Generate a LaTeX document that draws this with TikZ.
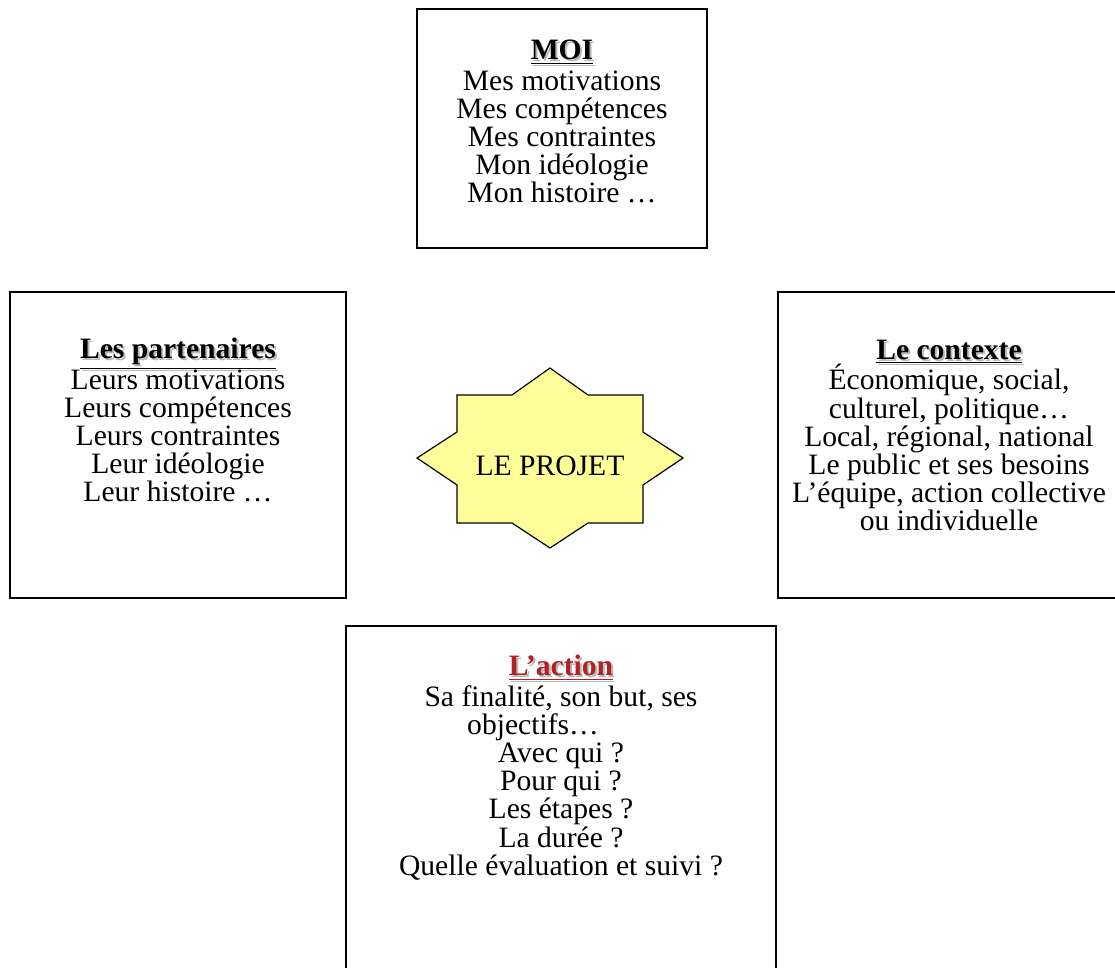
\documentclass[tikz,border=0pt]{standalone}
\usepackage{fontspec}
\setmainfont{Liberation Serif}
\usetikzlibrary{positioning}

\definecolor{rougetitre}{RGB}{178,34,34}
\definecolor{jauneprojet}{RGB}{255,255,153}

% title underlined with a small grey shadow (no depth, so line spacing stays even)
\newcommand{\titreombre}[2][black]{\leavevmode\raisebox{0pt}[\height][0pt]{\rlap{\hspace{1pt}\raisebox{-1pt}{\color{gray!55}\textbf{\underline{#2}}}}{\color{#1}\textbf{\underline{#2}}}}}

\begin{document}
\begin{tikzpicture}[
    x=0.5pt, y=-0.5pt,
    % boxes
    panel/.style={draw, line width=1pt, inner sep=0pt},
    corps/.style={font=\fontsize{14.8}{14.1}\selectfont, align=center, inner sep=0pt, anchor=north},
    % centre star
    etoile/.style={draw, line width=0.6pt, fill=jauneprojet, line join=miter}
]
\clip (0,0) rectangle (1115,968);
\fill[white] (0,0) rectangle (1115,968);

% --- the four boxes ---
\node[panel, minimum width=145pt, minimum height=119.5pt] (moi) at (562,128.5) {};
\node[panel, minimum width=168pt, minimum height=153pt] (partenaires) at (178,445) {};
\node[panel, minimum width=171pt, minimum height=153pt] (contexte) at (949,445) {};
\node[panel, minimum width=215pt, minimum height=174.5pt] (action) at (561,800.5) {};

% --- texts ---
\node[corps, below=16pt of moi.north] (moitexte) {\titreombre{MOI}\\[1pt]
 Mes motivations\\ Mes compétences\\ Mes contraintes\\ Mon idéologie\\ Mon histoire …};
\node[corps, below=23.5pt of partenaires.north] (partexte) {\titreombre{Les partenaires}\\[1pt]
 Leurs motivations\\ Leurs compétences\\ Leurs contraintes\\ Leur idéologie\\ Leur histoire …};
\node[corps, below=24.5pt of contexte.north] (ctxtexte) {\titreombre{Le contexte}\\[1pt]
 Économique, social,\\ culturel, politique…\\ Local, régional, national\\ Le public et ses besoins\\
 L’équipe, action collective\\ ou individuelle};
\node[corps, below=15pt of action.north] (acttexte) {\titreombre[rougetitre]{L’action}\\[1pt]
 Sa finalité, son but, ses\\ \mbox{objectifs…\hspace{28pt}}\\ Avec qui ?\\ Pour qui ?\\ Les étapes ?\\ La durée ?\\
 Quelle évaluation et suivi ?};

% --- LE PROJET ---
\coordinate (centre) at (550,458);
\draw[etoile, shift={(centre)}] (0,-90) -- (38,-63) -- (93,-63) -- (93,-26) -- (133,0) -- (93,27)
  -- (93,65) -- (38,65) -- (0,90) -- (-38,65) -- (-93,65) -- (-93,27) -- (-133,0) -- (-93,-26)
  -- (-93,-63) -- (-38,-63) -- cycle;
\node[font=\fontsize{14.8}{14.1}\selectfont, inner sep=0pt] (projet) at ([yshift=-4pt]centre) {LE PROJET};

\end{tikzpicture}
\end{document}
